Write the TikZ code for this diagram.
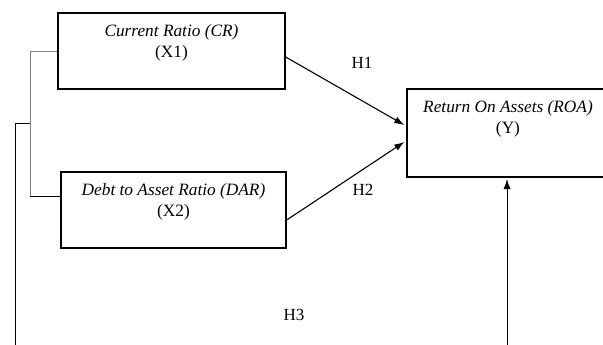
\documentclass[tikz,border=0pt]{standalone}
\usepackage{fontspec}
\setmainfont{Liberation Serif}
\usetikzlibrary{arrows.meta,calc}
\begin{document}
\begin{tikzpicture}[x=1pt,y=-1pt,
  varbox/.style={draw=black,line width=1.4pt,rectangle,inner sep=0pt},
  boxtext/.style={anchor=north,align=center,inner sep=0pt,font=\fontsize{17.3}{21.5}\selectfont},
  hyp/.style={font=\fontsize{17}{20}\selectfont,inner sep=0pt},
  link/.style={line width=1.1pt,-{Latex[length=10pt,width=7pt]}},
  brk/.style={line width=0.9pt}]
\useasboundingbox (0,0) rectangle (603,345);
\begin{scope}
\clip (0,0) rectangle (603,345);
\node[varbox,minimum width=227pt,minimum height=76pt] (x1) at (171.5,51) {};
\node[varbox,minimum width=225pt,minimum height=76pt] (x2) at (173.5,210) {};
\node[varbox,minimum width=202pt,minimum height=88pt] (y) at (508,133) {};
\end{scope}
\node[boxtext] (t1) at ($(x1.north)+(0,11.5)$) {\textit{Current Ratio (CR)}\\(X1)};
\node[boxtext] (t2) at ($(x2.north)+(0,11.5)$) {\textit{Debt to Asset Ratio (DAR)}\\(X2)};
\node[boxtext] (t3) at ($(y.north)+(0,11.5)$) {\textit{Return On Assets (ROA)}\\(Y)};
\node[hyp] (h1) at (362,63) {H1};
\node[hyp] (h2) at (363,190) {H2};
\node[hyp] (h3) at (294,315) {H3};
\draw[link] ($(x1.east)+(0,6)$) -- ($(y.west)+(-2,-8)$);
\draw[link] ($(x2.east)+(0,10)$) -- ($(y.west)+(-2,9)$);
\coordinate (bot) at (507,345);
\draw[link,line width=0.9pt] (bot) -- (507,179);
\coordinate (b1) at (30,51);
\coordinate (b2) at (30,196);
\coordinate (bm) at (30,123);
\coordinate (bl) at (15,123);
\coordinate (blb) at (15,345);
\draw[brk,gray] (x1.west) -- (b1) -- (b2);
\draw[brk] (b2) -- ($(x2.west)+(0,-14)$);
\draw[brk] (bm) -- (bl) -- (blb);
\end{tikzpicture}
\end{document}
